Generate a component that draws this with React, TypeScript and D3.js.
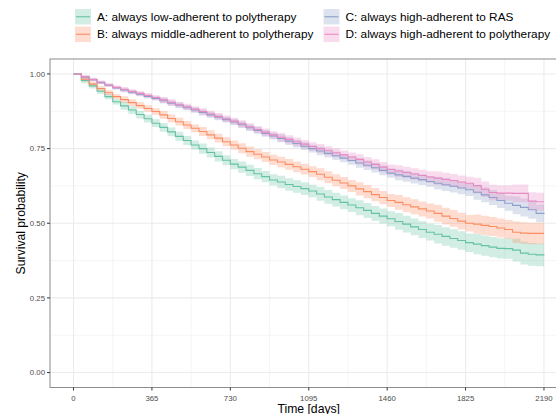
import React from "react";
import * as d3 from "d3";

// ---- data ----
const SERIES_NAMES = [
  "A: always low-adherent to polytherapy",
  "B: always middle-adherent to polytherapy",
  "C: always high-adherent to RAS",
  "D: always high-adherent to polytherapy",
];
const SERIES_COLORS = ["#66C2A5", "#FC8D62", "#8DA0CB", "#E78AC3"];

// survival estimates every 36.5 days, from day 0 to day 2190
const STEP_DAYS = 36.5;
const survA = [
  1.0, 0.978, 0.96, 0.942, 0.924, 0.907, 0.893, 0.879, 0.864, 0.85, 0.835, 0.821, 0.806, 0.791,
  0.777, 0.762, 0.75, 0.737, 0.724, 0.711, 0.698, 0.688, 0.677, 0.666, 0.656, 0.645, 0.638,
  0.63, 0.623, 0.616, 0.608, 0.598, 0.588, 0.579, 0.57, 0.561, 0.552, 0.543, 0.533, 0.524,
  0.515, 0.506, 0.497, 0.488, 0.479, 0.47, 0.463, 0.456, 0.449, 0.442, 0.435, 0.43, 0.425,
  0.42, 0.416, 0.415, 0.41, 0.4, 0.396, 0.394, 0.393,
];
const survB = [
  1.0, 0.982, 0.966, 0.951, 0.937, 0.924, 0.914, 0.904, 0.894, 0.884, 0.874, 0.863, 0.851,
  0.84, 0.829, 0.818, 0.807, 0.796, 0.785, 0.773, 0.762, 0.751, 0.74, 0.731, 0.722, 0.712,
  0.705, 0.697, 0.689, 0.681, 0.673, 0.664, 0.654, 0.644, 0.635, 0.625, 0.615, 0.606, 0.596,
  0.586, 0.576, 0.57, 0.562, 0.555, 0.548, 0.541, 0.533, 0.524, 0.516, 0.507, 0.5, 0.497,
  0.493, 0.489, 0.484, 0.479, 0.47, 0.467, 0.466, 0.466, 0.466,
];
const survC = [
  1.0, 0.99, 0.981, 0.971, 0.962, 0.953, 0.946, 0.939, 0.932, 0.925, 0.918, 0.91, 0.902,
  0.895, 0.887, 0.879, 0.871, 0.863, 0.855, 0.847, 0.839, 0.83, 0.82, 0.811, 0.801, 0.792,
  0.784, 0.775, 0.767, 0.758, 0.75, 0.742, 0.734, 0.726, 0.718, 0.71, 0.702, 0.694, 0.686,
  0.677, 0.668, 0.662, 0.657, 0.651, 0.646, 0.64, 0.634, 0.629, 0.624, 0.618, 0.612, 0.604,
  0.595, 0.586, 0.576, 0.567, 0.56, 0.553, 0.545, 0.533, 0.531,
];
const survD = [
  1.0, 0.99, 0.981, 0.972, 0.963, 0.955, 0.948, 0.941, 0.935, 0.928, 0.921, 0.913, 0.905,
  0.897, 0.89, 0.882, 0.874, 0.866, 0.858, 0.85, 0.842, 0.833, 0.823, 0.814, 0.805, 0.796,
  0.788, 0.781, 0.773, 0.765, 0.757, 0.75, 0.743, 0.736, 0.729, 0.722, 0.714, 0.705, 0.697,
  0.688, 0.68, 0.675, 0.67, 0.665, 0.66, 0.655, 0.651, 0.647, 0.643, 0.638, 0.634, 0.626,
  0.614, 0.603, 0.601, 0.601, 0.6, 0.6, 0.574, 0.572, 0.572,
];
// confidence-band half widths every 182.5 days
const ciA = [0, 0.009, 0.013, 0.015, 0.017, 0.019, 0.021, 0.023, 0.025, 0.028, 0.031, 0.034, 0.038];
const ciB = [0, 0.008, 0.011, 0.013, 0.015, 0.017, 0.018, 0.02, 0.022, 0.025, 0.028, 0.032, 0.036];
const ciC = [0, 0.005, 0.007, 0.009, 0.01, 0.011, 0.013, 0.014, 0.016, 0.018, 0.021, 0.025, 0.03];
const ciD = [0, 0.006, 0.008, 0.01, 0.011, 0.012, 0.014, 0.015, 0.017, 0.019, 0.022, 0.026, 0.03];

const X_TICKS = [0, 365, 730, 1095, 1460, 1825, 2190];
const X_MINOR = [182.5, 547.5, 912.5, 1277.5, 1642.5, 2007.5];
const Y_TICKS = [0, 0.25, 0.5, 0.75, 1];
const Y_MINOR = [0.125, 0.375, 0.625, 0.875];
const Y_LABELS = ["0.00", "0.25", "0.50", "0.75", "1.00"];

const SURV = [survA, survB, survC, survD];
const CI = [ciA, ciB, ciC, ciD];

const W = 556;
const H = 414;
const FONT = "'Liberation Sans', Arial, Helvetica, sans-serif";

export default function App() {
  const x = d3.scaleLinear().domain([-109.5, 2299.5]).range([50, 567.5]);
  const y = d3.scaleLinear().domain([-0.05, 1.05]).range([387.5, 59]);
  const [px0, px1] = x.range();
  const [py0, py1] = y.range();

  type P = { t: number; s: number; lo: number; hi: number };
  const series: P[][] = SURV.map((arr, si) =>
    arr.map((s, i) => {
      const hw = CI[si][Math.ceil(i / 5)];
      return { t: i * STEP_DAYS, s, lo: s - hw, hi: s + hw };
    })
  );

  const line = d3
    .line<P>()
    .x((d) => x(d.t))
    .y((d) => y(d.s))
    .curve(d3.curveStepAfter);
  const area = d3
    .area<P>()
    .x((d) => x(d.t))
    .y0((d) => y(d.lo))
    .y1((d) => y(d.hi))
    .curve(d3.curveStepAfter);

  const legendPos = [
    { kx: 75, ky: 9 },
    { kx: 75, ky: 26.5 },
    { kx: 323.5, ky: 9 },
    { kx: 323.5, ky: 26.5 },
  ];

  return (
    <svg
      width={W}
      height={H}
      style={{ position: "absolute", left: 0, top: 0, background: "#fff" }}
      fontFamily={FONT}
    >
      <rect x={0} y={0} width={W} height={H} fill="#fff" />
      <defs>
        <clipPath id="panel">
          <rect x={px0} y={py1} width={px1 - px0} height={py0 - py1} />
        </clipPath>
      </defs>
      {/* grid */}
      <g clipPath="url(#panel)">
        {Y_MINOR.map((v) => (
          <line key={"ym" + v} x1={px0} x2={px1} y1={y(v)} y2={y(v)} stroke="#f3f3f3" strokeWidth={0.8} />
        ))}
        {X_MINOR.map((v) => (
          <line key={"xm" + v} x1={x(v)} x2={x(v)} y1={py1} y2={py0} stroke="#f3f3f3" strokeWidth={0.8} />
        ))}
        {Y_TICKS.map((v) => (
          <line key={"y" + v} x1={px0} x2={px1} y1={y(v)} y2={y(v)} stroke="#ebebeb" strokeWidth={1.1} />
        ))}
        {X_TICKS.map((v) => (
          <line key={"x" + v} x1={x(v)} x2={x(v)} y1={py1} y2={py0} stroke="#ebebeb" strokeWidth={1.1} />
        ))}
        {series.map((d, i) => (
          <path key={"b" + i} d={area(d) || ""} fill={SERIES_COLORS[i]} fillOpacity={0.3} stroke="none" />
        ))}
        {series.map((d, i) => (
          <path key={"l" + i} d={line(d) || ""} fill="none" stroke={SERIES_COLORS[i]} strokeWidth={1.1} />
        ))}
      </g>
      {/* panel border */}
      <rect
        x={px0}
        y={py1}
        width={px1 - px0}
        height={py0 - py1}
        fill="none"
        stroke="#8c8c8c"
        strokeWidth={1}
      />
      {/* y axis */}
      {Y_TICKS.map((v, i) => (
        <g key={"yt" + v}>
          <line x1={px0 - 3} x2={px0} y1={y(v)} y2={y(v)} stroke="#333" strokeWidth={1} />
          <text x={px0 - 5} y={y(v)} dy="0.35em" textAnchor="end" fontSize={7.8} fill="#4d4d4d">
            {Y_LABELS[i]}
          </text>
        </g>
      ))}
      {/* x axis */}
      {X_TICKS.map((v) => (
        <g key={"xt" + v}>
          <line x1={x(v)} x2={x(v)} y1={py0} y2={py0 + 3} stroke="#333" strokeWidth={1} />
          <text x={x(v)} y={py0 + 13} textAnchor="middle" fontSize={7.8} fill="#4d4d4d">
            {v}
          </text>
        </g>
      ))}
      <text x={(px0 + px1) / 2} y={413} textAnchor="middle" fontSize={12.2} fill="#000">
        Time [days]
      </text>
      <text
        transform={`translate(25,${(py0 + py1) / 2}) rotate(-90)`}
        textAnchor="middle"
        fontSize={12.2}
        fill="#000"
      >
        Survival probability
      </text>
      {/* legend */}
      {SERIES_NAMES.map((name, i) => {
        const { kx, ky } = legendPos[i];
        return (
          <g key={"lg" + i}>
            <rect x={kx} y={ky} width={16} height={15.5} fill={SERIES_COLORS[i]} fillOpacity={0.3} />
            <line
              x1={kx + 1}
              x2={kx + 15}
              y1={ky + 7.75}
              y2={ky + 7.75}
              stroke={SERIES_COLORS[i]}
              strokeWidth={1.1}
            />
            <text x={kx + 22} y={ky + 7.75} dy="0.35em" fontSize={11.8} fill="#000">
              {name}
            </text>
          </g>
        );
      })}
    </svg>
  );
}
